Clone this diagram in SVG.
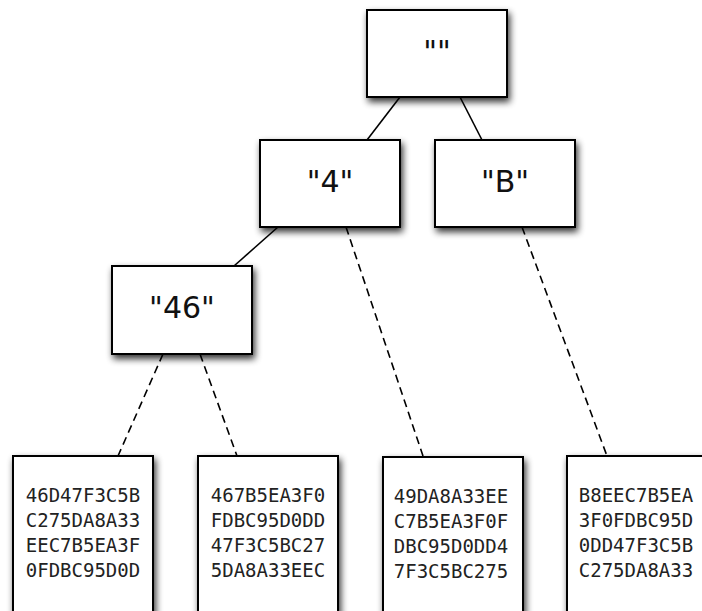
<svg xmlns="http://www.w3.org/2000/svg" width="702" height="611" viewBox="0 0 702 611">
<defs>
<filter id="sh" x="-20%" y="-20%" width="150%" height="160%">
<feGaussianBlur in="SourceAlpha" stdDeviation="3.5"/>
<feOffset dx="2" dy="4" result="b"/>
<feComponentTransfer in="b" result="s"><feFuncA type="linear" slope="0.8"/></feComponentTransfer>
<feMerge><feMergeNode in="s"/><feMergeNode in="SourceGraphic"/></feMerge>
</filter>
<style>
.box{fill:#fff;stroke:#000;stroke-width:2;filter:url(#sh)}
.lbl{font-family:"DejaVu Sans",sans-serif;font-size:30px;text-anchor:middle;fill:#111}
.hex{font-family:"DejaVu Sans Mono",monospace;font-size:19px;text-anchor:middle;fill:#222}
.edge{stroke:#000;stroke-width:1.6;fill:none}
.dash{stroke:#000;stroke-width:1.6;fill:none;stroke-dasharray:8 5}
</style>
</defs>
<rect width="702" height="611" fill="#fff"/>
<g id="connectors">
<line class="edge" x1="400" y1="97" x2="367" y2="140"/>
<line class="edge" x1="460" y1="97" x2="482" y2="140"/>
<line class="edge" x1="278" y1="227" x2="234" y2="266"/>
<line class="dash" x1="163" y1="354" x2="118" y2="456"/>
<line class="dash" x1="200" y1="354" x2="237" y2="456"/>
<line class="dash" x1="346" y1="227" x2="423" y2="456"/>
<line class="dash" x1="522" y1="227" x2="607" y2="456"/>
</g>
<g id="root">
<rect class="box" x="367" y="10" width="140" height="87"/>
<text class="lbl" x="437" y="62">""</text>
</g>
<g id="node4">
<rect class="box" x="260" y="140" width="140" height="87"/>
<text class="lbl" x="330" y="192">"4"</text>
</g>
<g id="nodeB">
<rect class="box" x="435" y="140" width="140" height="87"/>
<text class="lbl" x="505" y="192">"B"</text>
</g>
<g id="node46">
<rect class="box" x="112" y="266" width="140" height="88"/>
<text class="lbl" x="182" y="318">"46"</text>
</g>
<g id="leaf1">
<rect class="box" x="13" y="456" width="140" height="170"/>
<text class="hex" x="83" y="502">46D47F3C5B</text>
<text class="hex" x="83" y="527">C275DA8A33</text>
<text class="hex" x="83" y="552">EEC7B5EA3F</text>
<text class="hex" x="83" y="577">0FDBC95D0D</text>
</g>
<g id="leaf2">
<rect class="box" x="198" y="456" width="140" height="170"/>
<text class="hex" x="268" y="502">467B5EA3F0</text>
<text class="hex" x="268" y="527">FDBC95D0DD</text>
<text class="hex" x="268" y="552">47F3C5BC27</text>
<text class="hex" x="268" y="577">5DA8A33EEC</text>
</g>
<g id="leaf3">
<rect class="box" x="383" y="457" width="140" height="170"/>
<text class="hex" x="451" y="503">49DA8A33EE</text>
<text class="hex" x="451" y="528">C7B5EA3F0F</text>
<text class="hex" x="451" y="553">DBC95D0DD4</text>
<text class="hex" x="451" y="578">7F3C5BC275</text>
</g>
<g id="leaf4">
<rect class="box" x="567" y="456" width="140" height="170"/>
<text class="hex" x="636" y="502">B8EEC7B5EA</text>
<text class="hex" x="636" y="527">3F0FDBC95D</text>
<text class="hex" x="636" y="552">0DD47F3C5B</text>
<text class="hex" x="636" y="577">C275DA8A33</text>
</g>
</svg>
